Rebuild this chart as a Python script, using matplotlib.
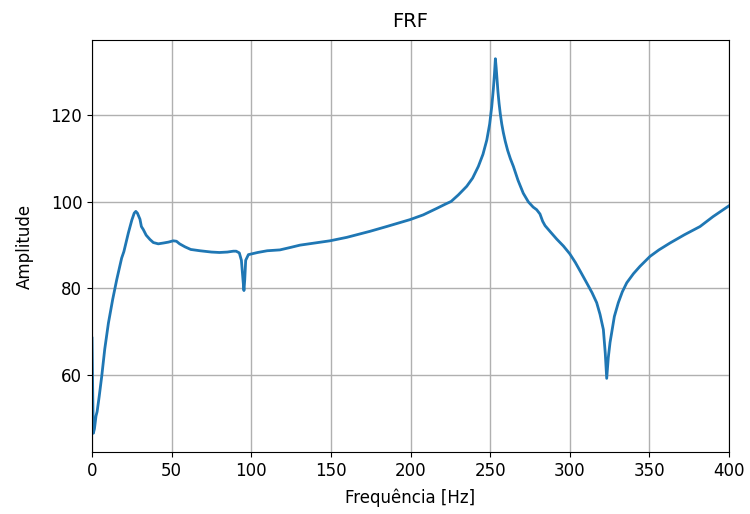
import matplotlib
matplotlib.use("Agg")
import matplotlib.pyplot as plt

# Frequency response
freq = [0.0, 0.4, 0.8, 1.5, 2.5, 3.2, 4.5, 6.1, 8.0, 10.3, 13.0, 15.5, 18.6, 20.0,
        22.8, 25.0, 26.5, 27.5, 28.5, 30.1, 31.0, 32.2, 34.0, 36.4, 38.5, 41.6,
        45.0, 48.0, 51.0, 53.0, 55.0, 58.4, 62.0, 67.8, 75.0, 80.0, 85.0, 88.7,
        90.5, 92.5, 93.8, 94.8, 95.4, 95.9, 96.5, 98.2, 104.0, 110.0, 118.0,
        125.0, 130.6, 140.0, 149.4, 160.0, 174.6, 185.0, 199.7, 208.0, 216.5,
        222.0, 225.5, 230.0, 235.3, 239.0, 242.6, 245.5, 247.9, 249.7, 251.0,
        252.0, 252.7, 253.3, 253.8, 254.3, 254.9, 255.6, 256.4, 257.3, 258.3,
        259.5, 261.0, 262.7, 264.6, 267.5, 270.8, 274.0, 277.0, 279.2, 281.3,
        283.0, 284.5, 288.0, 291.8, 296.0, 300.0, 303.5, 307.0, 310.6, 314.0,
        316.9, 319.0, 321.1, 322.3, 323.2, 324.2, 325.3, 326.3, 328.0, 330.5,
        333.0, 335.8, 340.0, 344.1, 350.4, 356.0, 363.0, 372.0, 381.8, 390.0,
        400.0]
amplitude = [68.5, 57.0, 46.5, 47.5, 50.5, 51.5, 55.0, 59.7, 66.0, 72.0, 77.5, 82.0,
             87.0, 88.5, 92.8, 95.8, 97.4, 97.8, 97.4, 96.0, 94.3, 93.6, 92.3,
             91.3, 90.6, 90.3, 90.5, 90.7, 91.0, 90.9, 90.3, 89.6, 89.0, 88.7,
             88.4, 88.3, 88.4, 88.6, 88.6, 88.2, 86.5, 82.0, 79.5, 82.0, 86.5,
             87.8, 88.3, 88.7, 88.9, 89.5, 90.0, 90.5, 91.0, 91.8, 93.2, 94.3,
             95.9, 97.0, 98.5, 99.5, 100.1, 101.6, 103.6, 105.5, 108.2, 111.0,
             114.3, 118.0, 122.0, 126.0, 129.5, 133.1, 131.0, 128.5, 125.5,
             122.8, 120.3, 118.0, 116.0, 114.0, 111.9, 110.0, 108.2, 105.0,
             102.0, 100.0, 98.8, 98.2, 97.2, 95.5, 94.5, 93.0, 91.4, 89.8, 88.0,
             86.0, 83.7, 81.3, 79.0, 76.7, 74.0, 70.5, 65.0, 59.2, 64.0, 67.5,
             69.7, 73.5, 76.7, 79.2, 81.3, 83.4, 85.1, 87.4, 88.9, 90.5, 92.4,
             94.3, 96.6, 99.1]

fig = plt.figure(figsize=(7.5, 5.14), dpi=100)
ax = fig.add_axes([0.1227, 0.1206, 0.8493, 0.8016])

ax.plot(freq, amplitude, color="#1f77b4", linewidth=2.0)
ax.set_xlim(0, 400)
ax.grid(True, color="#b0b0b0", linewidth=1.0)

ax.set_title("FRF", fontsize=14, pad=9)
ax.set_xlabel("Frequência [Hz]", fontsize=12, labelpad=6)
ax.set_ylabel("Amplitude", fontsize=12, labelpad=12)
ax.tick_params(labelsize=12)

fig.savefig("out.png", dpi=100)
